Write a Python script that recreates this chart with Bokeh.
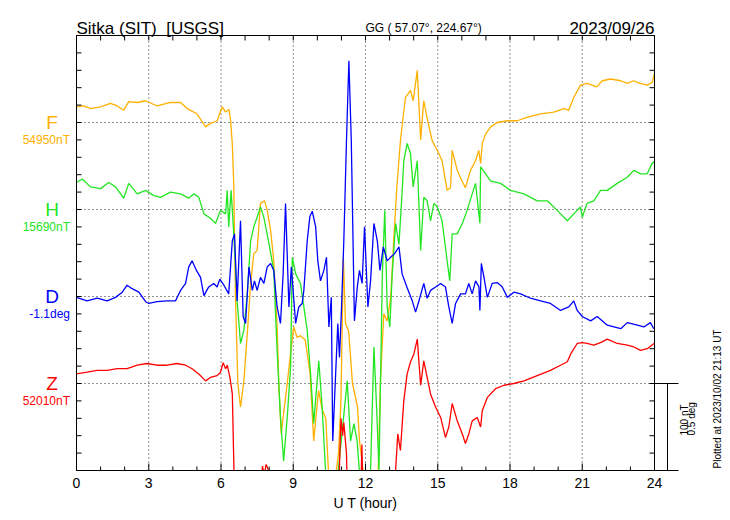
import math
from bokeh.plotting import figure
from bokeh.models import Range1d
from bokeh.core.properties import value
from bokeh.embed import file_html
from bokeh.resources import INLINE

# ---------------- data ----------------
station_title = "Sitka (SIT) \u00a0[USGS]"
coord_text = "GG ( 57.07\u00b0, 224.67\u00b0)"
date_text = "2023/09/26"
plotted_text = "Plotted at 2023/10/02 21:13 UT"
x_label = "U T (hour)"
x_ticks = [0, 3, 6, 9, 12, 15, 18, 21, 24]
scale_texts = ["100 nT", "0.5 deg"]

components = ["F", "H", "D", "Z"]
base_labels = ["54950nT", "15690nT", "-1.1deg", "52010nT"]

F_hours = [0.0, 0.3, 0.58, 1.0, 1.41, 1.69, 1.96, 2.17, 2.52, 2.87, 3.35, 3.9, 4.32, 4.6, 5.0,
           5.29, 5.36, 5.56, 5.84, 6.05, 6.19, 6.33, 6.4, 6.47, 6.53, 6.6, 6.7, 6.81, 6.95, 7.1,
           7.23, 7.36, 7.5, 7.64, 7.81, 7.92, 8.06, 8.19, 8.33, 8.4, 8.5, 8.58, 8.75, 8.89, 9.02,
           9.16, 9.3, 9.5, 9.7, 9.85, 10.05, 10.2, 10.35, 10.46, 10.7, 10.88, 10.98, 11.08, 11.17,
           11.3, 11.46, 11.67, 11.75, 11.9, 12.1, 12.5, 12.62, 12.76, 12.9, 13.05, 13.17, 13.3,
           13.45, 13.66, 13.87, 13.98, 14.15, 14.29, 14.42, 14.56, 14.77, 15.05, 15.18, 15.39,
           15.53, 15.6, 15.81, 16.0, 16.15, 16.36, 16.57, 16.7, 16.78, 16.85, 16.99, 17.2, 17.47,
           17.9, 18.3, 18.7, 19.27, 19.82, 20.24, 20.44, 20.65, 20.93, 21.2, 21.6, 21.83, 22.18,
           22.6, 22.87, 23.13, 23.4, 23.7, 23.9, 24.0]
F_dev_nT = [18, 19, 16, 18, 22, 19, 14, 24, 23, 25, 19, 23, 23, 16, 10,
            -2, -5, -1, 2, 18, 12, 15, 2, -25, -71, -200, -300, -327, -297, -240,
            -185, -151, -147, -93, -90, -101, -124, -159, -235, -300, -358, -339, -300, -265, -235,
            -247, -245, -250, -289, -366, -308, -330, -340, -400, -420, -380, -320, -155, -231,
            -240, -300, -327, -366, -400, -440, -430, -297, -220, -228, -200, -136, -75,
            -21, 29, 37, 25, 60, -20, 25, 5, -21, -36, -44, -78,
            -75, -32, -55, -67, -75, -55, -44, -32, -47, -24, -13, -5, 0,
            2, 2, 6, 10, 12, 16, 14, 29, 43, 45, 41, 48, 50,
            48, 45, 48, 45, 43, 46, 56]

H_hours = [0.0, 0.24, 0.58, 1.0, 1.34, 1.62, 1.96, 2.17, 2.52, 2.87, 3.21, 3.49, 3.9, 4.32, 4.66,
           4.87, 5.08, 5.29, 5.56, 5.77, 5.98, 6.19, 6.26, 6.32, 6.42, 6.53, 6.67, 6.81, 6.95, 7.09,
           7.23, 7.36, 7.5, 7.64, 7.78, 7.99, 8.19, 8.33, 8.47, 8.6, 8.75, 8.89, 8.96, 9.1, 9.3,
           9.44, 9.58, 9.72, 9.85, 10.06, 10.2, 10.34, 10.8, 11.05, 11.24, 11.38, 11.52, 11.65,
           11.8, 12.2, 12.35, 12.46, 12.56, 12.7, 12.8, 12.9, 13.01, 13.11, 13.25, 13.39, 13.52,
           13.59, 13.73, 13.87, 13.98, 14.15, 14.29, 14.42, 14.56, 14.7, 14.84, 14.98, 15.18, 15.39,
           15.5, 15.6, 15.81, 16.02, 16.22, 16.43, 16.57, 16.75, 16.78, 16.99, 17.19, 17.61, 18.02,
           18.58, 19.13, 19.55, 19.96, 20.38, 20.65, 20.93, 21.0, 21.2, 21.48, 21.76, 22.04, 22.45,
           22.87, 23.14, 23.42, 23.7, 23.9, 24.0]
H_dev_nT = [31, 35, 26, 24, 31, 26, 13, 30, 18, 22, 16, 14, 20, 18, 13,
            18, 14, -5, -10, -16, -1, -5, 22, -20, 22, -28, -105, -154, -139, -97,
            -36, -20, -9, 3, -9, -39, -70, -162, -239, -289, -239, -181, -55, -74, -85,
            -112, -139, -189, -246, -174, -227, -300, -320, -250, -197, -266, -246, -266,
            -320, -310, -158, -227, -300, -74, -1, -112, -135, -74, -16, -40, 20,
            56, 76, 64, 26, 56, -47, 14, 10, -13, 7, 3, -13, -59,
            -82, -28, -28, -16, -1, 18, 30, -16, 49, 41, 33, 30, 22,
            18, 10, 10, -1, -13, -5, 3, -9, 7, 10, 22, 22, 30,
            37, 45, 41, 41, 53, 55]

D_hours = [0.0, 0.44, 0.86, 1.27, 1.62, 1.9, 2.1, 2.31, 2.59, 2.87, 3.0, 3.35, 3.76, 4.11, 4.32,
           4.53, 4.66, 4.8, 4.98, 5.15, 5.29, 5.49, 5.7, 5.84, 5.95, 6.12, 6.32, 6.47, 6.56, 6.67,
           6.81, 6.92, 7.02, 7.16, 7.3, 7.39, 7.5, 7.64, 7.78, 7.92, 8.06, 8.19, 8.33, 8.47, 8.58,
           8.68, 8.82, 8.92, 9.1, 9.23, 9.37, 9.44, 9.58, 9.69, 9.79, 9.93, 10.02, 10.13, 10.27,
           10.38, 10.48, 10.58, 10.64, 10.76, 10.85, 10.92, 11.0, 11.1, 11.21, 11.31, 11.41, 11.54,
           11.66, 11.75, 11.86, 11.96, 12.1, 12.21, 12.35, 12.49, 12.6, 12.74, 12.9, 13.04, 13.2,
           13.39, 13.52, 13.73, 13.94, 14.08, 14.21, 14.42, 14.56, 14.7, 14.91, 15.12, 15.32,
           15.46, 15.6, 15.74, 15.95, 16.15, 16.29, 16.43, 16.57, 16.71, 16.75, 16.81, 16.92,
           17.06, 17.26, 17.47, 17.68, 17.89, 18.16, 18.44, 18.85, 19.27, 19.68, 20.1, 20.44,
           20.65, 20.79, 21.0, 21.35, 21.62, 22.04, 22.6, 22.87, 23.29, 23.56, 23.83, 23.97]
D_dev_deg = [-0.005, -0.025, -0.01, -0.025, -0.005, 0.025, 0.065, 0.045, 0.025, -0.03, -0.04,
             -0.03, -0.025, -0.025, 0.035, 0.075, 0.17, 0.205, 0.15, 0.11, 0.005, 0.055, 0.075,
             0.055, 0.1, 0.065, 0.015, 0.32, 0.36, -0.025, 0.435, -0.115, -0.155, 0.17, 0.035,
             0.09, 0.035, 0.11, 0.075, 0.17, 0.19, 0.15, -0.06, -0.155, 0.13, 0.535, -0.06, 0.17,
             -0.155, -0.06, -0.04, 0.035, 0.32, 0.46, 0.49, 0.4, 0.205, 0.09, 0.15, 0.225, -0.175,
             -0.005, -0.83, -0.445, -0.155, -0.35, -0.08, 0.32, 0.895, 1.355, 0.895, -0.14, 0.055,
             0.15, 0.075, 0.4, -0.06, 0.09, 0.42, 0.32, 0.15, 0.285, 0.205, 0.225, 0.245, 0.285,
             0.13, 0.05, -0.025, -0.09, -0.03, 0.075, -0.01, 0.035, 0.055, 0.075, 0.055, -0.06,
             -0.155, -0.04, 0.015, 0.015, 0.075, 0.015, 0.09, 0.055, -0.08, 0.19, 0.11, -0.005,
             0.075, 0.08, 0.055, -0.005, 0.025, 0.015, -0.01, -0.025, -0.04, -0.08, -0.06, -0.025,
             -0.08, -0.115, -0.14, -0.115, -0.165, -0.185, -0.15, -0.165, -0.175, -0.15, -0.185]

Z_hours = [0.0, 0.44, 0.86, 1.27, 1.69, 2.1, 2.52, 2.93, 3.35, 3.76, 4.18, 4.53, 4.8, 5.08, 5.36,
           5.56, 5.84, 5.98, 6.09, 6.19, 6.26, 6.37, 6.47, 6.53, 6.6, 7.5, 7.72, 7.8, 7.87, 7.95,
           8.05, 10.8, 10.98, 11.05, 11.1, 11.21, 11.3, 11.75, 11.85, 11.95, 13.1, 13.25, 13.34,
           13.45, 13.59, 13.73, 13.87, 14.01, 14.15, 14.29, 14.42, 14.56, 14.7, 14.91, 15.12,
           15.32, 15.46, 15.6, 15.81, 16.02, 16.15, 16.29, 16.43, 16.64, 16.78, 16.85, 17.06,
           17.4, 17.75, 18.16, 18.58, 19.13, 19.68, 20.1, 20.38, 20.52, 20.79, 21.0, 21.2, 21.48,
           21.76, 22.04, 22.45, 22.87, 23.14, 23.42, 23.7, 23.98]
Z_dev_nT = [11, 13, 15, 15, 17, 17, 21, 23, 21, 21, 23, 21, 17, 11, 3,
            7, 9, 13, 24, 17, 21, 7, -12, -89, -200, -200, -95, -105, -93, -98,
            -200, -200, -40, -60, -45, -80, -200, -200, -70, -200, -200, -100, -58,
            -77, -20, 11, 25, 34, 51, -2, 26, 7, -12, -27, -39,
            -62, -50, -23, -43, -58, -69, -58, -43, -39, -50, -31, -16,
            -6, -2, 0, 3, 9, 15, 21, 25, 34, 46, 47, 46, 44,
            47, 51, 46, 44, 42, 38, 40, 46]

colors = ["#ffb000", "#22e622", "#0000ff", "#ff0000"]
FONT = value("Liberation Sans")

# ---------------- geometry ----------------
W, H = 722, 512
FL, FR, FT, FB = 76, 654, 35, 470          # box edges in canvas pixels
Y0, Y1 = -100, 400                         # plotting units (100 nT = 0.5 deg per row)
pph = (FR - FL) / 24.0                     # pixels per hour
ppu = (FB - FT) / float(Y1 - Y0)           # pixels per unit
rows = [300, 200, 100, 0]

xr = Range1d(-FL / pph, (W - FL) / pph)
yr = Range1d(Y0 - (H - FB) / ppu, Y1 + FT / ppu)

p = figure(width=W, height=H, output_backend="svg", toolbar_location=None,
           x_range=xr, y_range=yr, min_border=0,
           x_axis_location=None, y_axis_location=None)
p.outline_line_color = None
p.xgrid.visible = False
p.ygrid.visible = False
p.background_fill_color = "white"
p.border_fill_color = "white"

def hx(px):   # canvas pixel offset -> hours
    return px / pph

def uy(px):   # canvas pixel offset -> units
    return px / ppu

# dotted grid
gx = x_ticks[1:-1]
p.segment(x0=gx, x1=gx, y0=[Y0] * len(gx), y1=[Y1] * len(gx),
          line_color="#222222", line_dash="1 3", line_width=1)
p.segment(x0=[0] * len(rows), x1=[24] * len(rows), y0=rows, y1=rows,
          line_color="#222222", line_dash="1 3", line_width=1)

# traces
ys = [
    [rows[0] + v for v in F_dev_nT],
    [rows[1] + v for v in H_dev_nT],
    [rows[2] + v * 200.0 for v in D_dev_deg],
    [rows[3] + v for v in Z_dev_nT],
]
xs = [F_hours, H_hours, D_hours, Z_hours]
for x, y, c in zip(xs, ys, colors):
    p.line(x, y, line_color=c, line_width=1.3)

# white mask below the box (traces that leave the box downward)
p.quad(left=[xr.start], right=[xr.end], bottom=[yr.start], top=[Y0],
       fill_color="white", line_color=None)

# box
p.segment(x0=[0, 0, 0, 24], x1=[24, 0, 24, 24], y0=[Y1, Y0, Y0, Y0], y1=[Y1, Y1, Y0, Y1],
          line_color="black", line_width=1)

# ticks
hours = list(range(25))
p.segment(x0=hours, x1=hours, y0=[Y0] * 25,
          y1=[Y0 + uy(7 if h % 3 == 0 else 4) for h in hours], line_color="black", line_width=1)
p.segment(x0=hours, x1=hours, y0=[Y1] * 25, y1=[Y1 - uy(5)] * 25, line_color="black", line_width=1)
yt = list(range(Y0, Y1 + 1, 20))
p.segment(x0=[0] * len(yt), x1=[hx(5)] * len(yt), y0=yt, y1=yt, line_color="black", line_width=1)
p.segment(x0=[24] * len(yt), x1=[24 - hx(5)] * len(yt), y0=yt, y1=yt, line_color="black", line_width=1)

# scale bar (100 nT / 0.5 deg) right of the box
sb_x = 24 + hx(13)
sb_end = 24 + hx(24)
p.segment(x0=[24, 24, sb_x], x1=[sb_end, sb_end, sb_x], y0=[0, Y0, 0], y1=[0, Y0, Y0],
          line_color="black", line_width=1)

# tick labels and axis label
p.text(x=x_ticks, y=[Y0 - uy(7)] * len(x_ticks), text=[str(t) for t in x_ticks],
       text_font=FONT, text_font_size="14px", text_align="center", text_baseline="top",
       text_color="black")
p.text(x=[12], y=[Y0 - uy(32)], text=[x_label], text_font=FONT, text_font_size="14px",
       text_align="center", text_baseline="alphabetic", text_color="black")

# component labels
p.text(x=[hx(51.5 - FL)] * 4, y=rows, text=components, text_color=colors, text_font=FONT,
       text_font_size="19px", text_align="center", text_baseline="alphabetic")
p.text(x=[hx(69.5 - FL)] * 4, y=[r - uy(17) for r in rows], text=base_labels, text_color=colors,
       text_font=FONT, text_font_size="12px", text_align="right", text_baseline="alphabetic")

# header
p.text(x=[0], y=[Y1 + uy(7)], text=[station_title], text_font=FONT, text_font_size="17px",
       text_align="left", text_baseline="alphabetic", text_color="black")
p.text(x=[12.0], y=[Y1 + uy(8)], text=[coord_text], text_font=FONT, text_font_size="12px",
       text_align="left", text_baseline="alphabetic", text_color="black")
p.text(x=[24], y=[Y1 + uy(7)], text=[date_text], text_font=FONT, text_font_size="17px",
       text_align="right", text_baseline="alphabetic", text_color="black")

# rotated texts on the right
p.text(x=[hx(684 - FL), hx(691 - FL)], y=[Y0 + uy(35)] * 2, text=scale_texts, text_font=FONT,
       text_font_size="10px", angle=math.pi / 2, text_align="left", text_baseline="alphabetic",
       text_color="black")
p.text(x=[hx(717 - FL)], y=[Y0 + uy(2)], text=[plotted_text], text_font=FONT,
       text_font_size="10px", angle=math.pi / 2, text_align="left", text_baseline="alphabetic",
       text_color="black")

open("out.html", "w").write(file_html(p, INLINE))
